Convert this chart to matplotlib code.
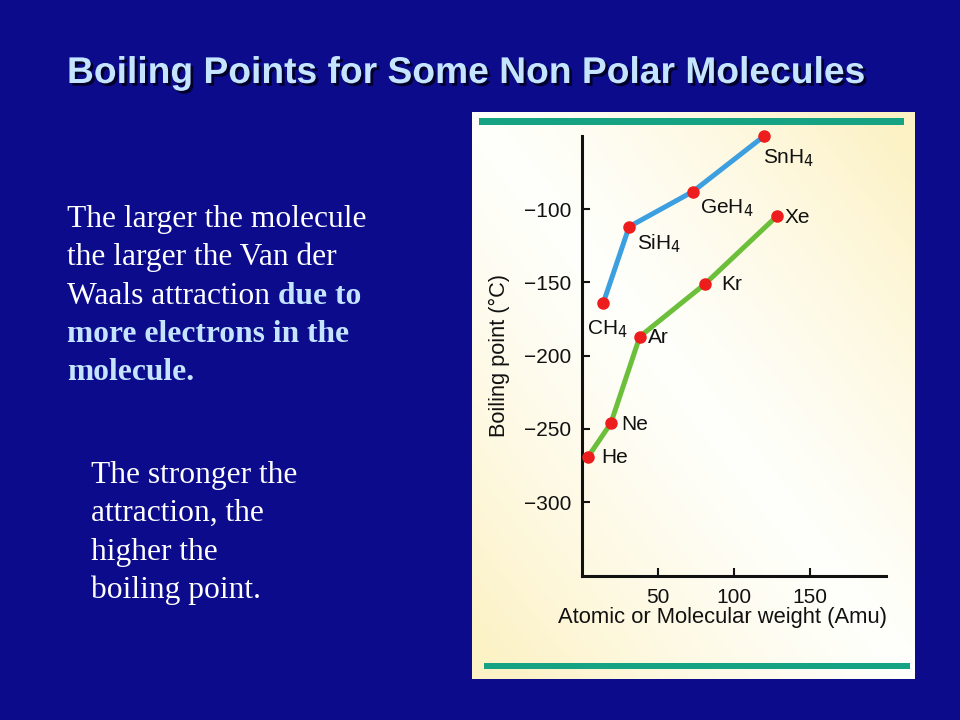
import numpy as np
import matplotlib
matplotlib.use("Agg")
import matplotlib.pyplot as plt
import matplotlib.patheffects as pe
from matplotlib.patches import Rectangle

# data
hydrides = ["CH$_4$", "SiH$_4$", "GeH$_4$", "SnH$_4$"]
hydride_mw = [14, 31, 73, 120]
hydride_bp = [-164, -112, -88, -50]

nobles = ["He", "Ne", "Ar", "Kr", "Xe"]
noble_mw = [4, 19, 38, 81, 128]
noble_bp = [-269, -246, -187, -151, -105]

y_ticks = [-100, -150, -200, -250, -300]
x_ticks = [50, 100, 150]

title = "Boiling Points for Some Non Polar Molecules"
para1 = ["The larger the molecule", "the larger the Van der"]
para1_mixed = ("Waals attraction ", "due to")
para1_bold = ["more electrons in the", "molecule."]
para2 = ["The stronger the", "attraction, the", "higher the", "boiling point."]

# label offsets in pixels (dx, dy down) and alignment
hyd_off = [(-16, 15, "top"), (8, 6, "top"), (7, 6, "top"), (-1, 12, "top")]
nob_off = [(13, 1, "center"), (10, 1, "center"), (8, 1, "center"),
           (16, 1, "center"), (8, 1, "center")]

BG = "#0b0b8c"
LIGHT = "#c4e4ff"
TEAL = "#15a383"
W, H = 960, 720


def fr(x0, y0, x1, y1):
    """pixel box (top-left origin) -> figure fraction rect"""
    return [x0 / W, 1 - y1 / H, (x1 - x0) / W, (y1 - y0) / H]


fig = plt.figure(figsize=(9.6, 7.2), dpi=100, facecolor=BG)

# slide layer in pixel coordinates
bg = fig.add_axes([0, 0, 1, 1])
bg.set_xlim(0, W)
bg.set_ylim(H, 0)
bg.axis("off")

serif = "Liberation Serif"
sans = "Liberation Sans"

bg.text(67, 83, title, fontsize=26.8, fontweight="bold", family=sans,
        color=LIGHT, va="baseline",
        path_effects=[pe.withSimplePatchShadow(offset=(2, -2),
                                               shadow_rgbFace="#000022",
                                               alpha=0.9)])

fs = 22.7
lh = 38.3
y = 227
for line in para1:
    bg.text(67, y, line, fontsize=fs, family=serif, color="white",
            va="baseline")
    y += lh
t = bg.text(67, y, para1_mixed[0], fontsize=fs, family=serif,
            color="white", va="baseline")
bg.annotate(para1_mixed[1], xy=(1, 0), xycoords=t, fontsize=fs,
            family=serif, fontweight="bold", color=LIGHT, va="bottom")
y += lh
for line in para1_bold:
    bg.text(67, y, line, fontsize=fs, family=serif, fontweight="bold",
            color=LIGHT, va="baseline")
    y += lh

y = 483
for line in para2:
    bg.text(91, y, line, fontsize=fs, family=serif, color="white",
            va="baseline")
    y += lh

# cream panel with gradient and teal rules
panel = fig.add_axes(fr(472, 112, 915, 679))
panel.set_xlim(0, 1)
panel.set_ylim(0, 1)
panel.axis("off")
u, v = np.meshgrid(np.linspace(0, 1, 200), np.linspace(0, 1, 200))
f = np.clip(np.abs(u + v - 1) * 1.1, 0, 1)[..., None] ** 1.3
white = np.array([1.0, 1.0, 0.985])
yellow = np.array([0.99, 0.95, 0.78])
grad = white * (1 - f) + yellow * f
panel.imshow(grad, extent=(0, 1, 0, 1), origin="lower", aspect="auto")
pw, ph = 915 - 472, 679 - 112
panel.add_patch(Rectangle(((479 - 472) / pw, (679 - 125) / ph),
                          (904 - 479) / pw, 7 / ph, color=TEAL, lw=0))
panel.add_patch(Rectangle(((484 - 472) / pw, (679 - 669) / ph),
                          (910 - 484) / pw, 6 / ph, color=TEAL, lw=0))

# the plot itself
ax = fig.add_axes(fr(582, 135.8, 886, 575.6))
ax.set_facecolor("none")
ax.set_xlim(0, 200)
ax.set_ylim(-350, -50)
for s in ("top", "right"):
    ax.spines[s].set_visible(False)
for s in ("left", "bottom"):
    ax.spines[s].set_linewidth(2.2)
    ax.spines[s].set_color("#111111")
ax.set_xticks(x_ticks)
ax.set_yticks(y_ticks)
ax.tick_params(direction="in", length=6, width=1.5, labelsize=15,
               colors="#111111")
ax.tick_params(axis="y", pad=8)
ax.tick_params(axis="x", pad=9)
for lab in ax.get_xticklabels() + ax.get_yticklabels():
    lab.set_family(sans)

ax.plot(hydride_mw, hydride_bp, color="#3b9fe0", lw=3.6, zorder=2,
        solid_capstyle="round", clip_on=False)
ax.plot(noble_mw, noble_bp, color="#6cbf3a", lw=3.6, zorder=2,
        solid_capstyle="round", clip_on=False)
ax.plot(hydride_mw, hydride_bp, "o", color="#ee1d1d", ms=8, zorder=3,
        clip_on=False)
ax.plot(noble_mw, noble_bp, "o", color="#ee1d1d", ms=8, zorder=3,
        clip_on=False)

for name, xv, yv, (dx, dy, va) in zip(hydrides + nobles,
                                      hydride_mw + noble_mw,
                                      hydride_bp + noble_bp,
                                      hyd_off + nob_off):
    ax.annotate(name, (xv, yv), xytext=(dx * 0.72, -dy * 0.72),
                textcoords="offset points", ha="left", va=va,
                fontsize=15, family=sans, color="#111111")

ax.set_xlabel("Atomic or Molecular weight (Amu)", fontsize=15.8,
              family=sans, color="#111111", va="top")
ax.xaxis.set_label_coords(0.462, -0.071)
ax.set_ylabel("Boiling point (°C)", fontsize=15.7, family=sans,
              color="#111111", va="center")
ax.yaxis.set_label_coords(-0.27, 0.5)

fig.savefig("out.png", dpi=100, facecolor=BG)
